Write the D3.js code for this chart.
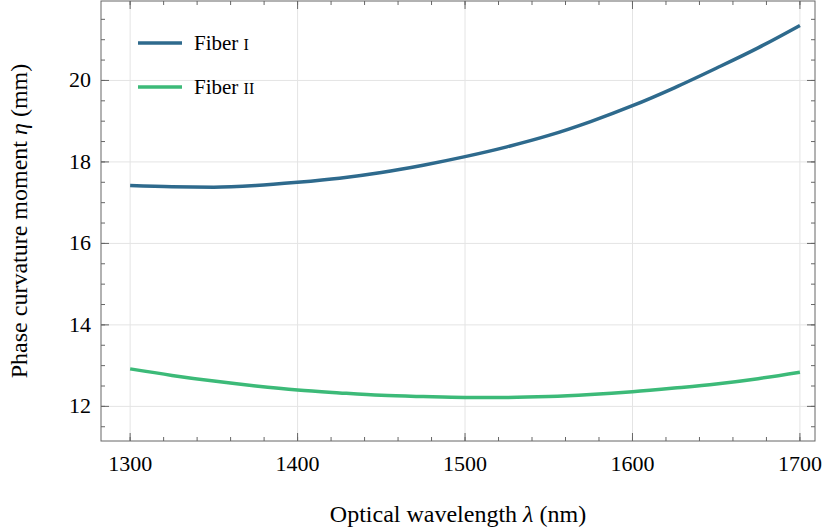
<!DOCTYPE html>
<html><head><meta charset="utf-8">
<script src="https://cdn.jsdelivr.net/npm/d3@7"></script>
<style>body{margin:0;background:#fff}text{font-family:"Liberation Serif",serif}</style>
</head><body>
<script>
var wavelengths = [1300,1325,1350,1375,1400,1425,1450,1475,1500,1525,1550,1575,1600,1625,1650,1675,1700]
var fiber1 = [17.42,17.39,17.38,17.42,17.5,17.6,17.74,17.92,18.13,18.37,18.65,18.99,19.38,19.82,20.3,20.8,21.35]
var fiber2 = [12.92,12.76,12.62,12.5,12.4,12.33,12.27,12.24,12.22,12.22,12.24,12.29,12.36,12.45,12.55,12.68,12.84]
var xTicks = [1300,1400,1500,1600,1700]
var yTicks = [12,14,16,18,20]

var W = 830, H = 530
var pL = 101, pR = 815, pT = 1, pB = 441
var svg = d3.select("body").append("svg").attr("width",W).attr("height",H)

var x = d3.scaleLinear().domain([1282.6,1709]).range([pL,pR])
var y = d3.scaleLinear().domain([11.15,21.95]).range([pB,pT])

// grid
svg.selectAll(".gx").data(xTicks).enter().append("line")
  .attr("x1",d=>x(d)).attr("x2",d=>x(d)).attr("y1",pT).attr("y2",pB)
  .attr("stroke","#e4e4e4")
svg.selectAll(".gy").data(yTicks).enter().append("line")
  .attr("y1",d=>y(d)).attr("y2",d=>y(d)).attr("x1",pL).attr("x2",pR)
  .attr("stroke","#e4e4e4")

var ax = "#666"
var minorX = d3.range(1300,1701,20), minorY = d3.range(11.5,22,0.5)
// ticks inside on all four sides
function tickX(vals,len,yy,dir){
  svg.selectAll(null).data(vals).enter().append("line")
    .attr("x1",d=>x(d)).attr("x2",d=>x(d)).attr("y1",yy).attr("y2",yy+dir*len)
    .attr("stroke",ax)
}
function tickY(vals,len,xx,dir){
  svg.selectAll(null).data(vals).enter().append("line")
    .attr("y1",d=>y(d)).attr("y2",d=>y(d)).attr("x1",xx).attr("x2",xx+dir*len)
    .attr("stroke",ax)
}
tickX(minorX,4,pB,-1); tickX(xTicks,8,pB,-1)
tickX(minorX,4,pT,1); tickX(xTicks,8,pT,1)
tickY(minorY,4,pL,1); tickY(yTicks,8,pL,1)
tickY(minorY,4,pR,-1); tickY(yTicks,8,pR,-1)

svg.append("rect").attr("x",pL).attr("y",pT).attr("width",pR-pL).attr("height",pB-pT)
  .attr("fill","none").attr("stroke",ax)

svg.selectAll(".xl").data(xTicks).enter().append("text")
  .attr("x",d=>x(d)).attr("y",pB+30).attr("text-anchor","middle")
  .attr("font-size",22).text(d=>d)
svg.selectAll(".yl").data(yTicks).enter().append("text")
  .attr("x",pL-10).attr("y",d=>y(d)+7).attr("text-anchor","end")
  .attr("font-size",22).text(d=>d)

var line = d3.line().x((d,i)=>x(wavelengths[i])).y(d=>y(d)).curve(d3.curveMonotoneX)
var colors = ["#2e6a8d","#3cba78"]
svg.append("path").attr("d",line(fiber1)).attr("fill","none").attr("stroke",colors[0]).attr("stroke-width",3.5)
svg.append("path").attr("d",line(fiber2)).attr("fill","none").attr("stroke",colors[1]).attr("stroke-width",3.5)

// legend
var names = [["Fiber ","I"],["Fiber ","II"]]
names.forEach(function(n,i){
  var yy = 43 + i*44
  svg.append("line").attr("x1",138).attr("x2",182).attr("y1",yy).attr("y2",yy)
    .attr("stroke",colors[i]).attr("stroke-width",3.5)
  var t = svg.append("text").attr("x",194).attr("y",yy+7).attr("font-size",21)
  t.append("tspan").text(n[0])
  t.append("tspan").attr("font-size",16).text(n[1])
})

svg.append("text").attr("x",(pL+pR)/2).attr("y",522).attr("text-anchor","middle")
  .attr("font-size",24).html('Optical wavelength <tspan font-style="italic">λ</tspan> (nm)')
svg.append("text").attr("transform","translate(27,"+(pT+pB)/2+") rotate(-90)")
  .attr("text-anchor","middle").attr("font-size",24)
  .html('Phase curvature moment <tspan font-style="italic">η</tspan> (mm)')
</script>
</body></html>
